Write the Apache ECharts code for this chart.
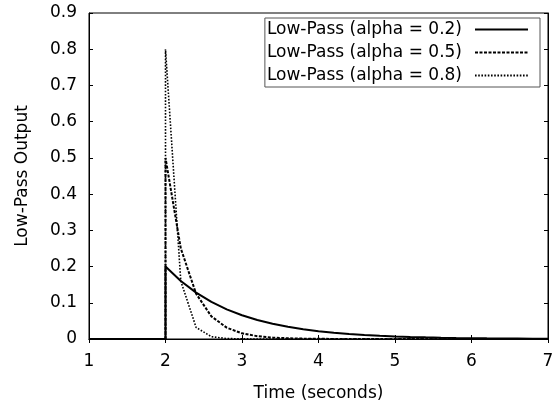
<!DOCTYPE html>
<html><head><meta charset="utf-8">
<script src="https://cdn.jsdelivr.net/npm/echarts@6/dist/echarts.min.js"></script>
<style>html,body{margin:0;padding:0;background:#fff}#c{width:552px;height:400px}</style>
</head><body><div id="c"></div>
<script>
const time = [1,1.2,1.4,1.6,1.8,2,2,2.2,2.4,2.6,2.8,3,3.2,3.4,3.6,3.8,4,4.2,4.4,4.6,4.8,5,5.2,5.4,5.6,5.8,6,6.2,6.4,6.6,6.8,7];
const lp02 = [0,0,0,0,0,0,0.2,0.16,0.128,0.1024,0.0819,0.0655,0.0524,0.0419,0.0336,0.0268,0.0215,0.0172,0.0137,0.011,0.0088,0.007,0.0056,0.0045,0.0036,0.0029,0.0023,0.0018,0.0015,0.0012,0.0009,0.0008];
const lp05 = [0,0,0,0,0,0,0.5,0.25,0.125,0.0625,0.0313,0.0156,0.0078,0.0039,0.002,0.001,0.0005,0.0002,0.0001,0,0,0,0,0,0,0,0,0,0,0,0,0];
const lp08 = [0,0,0,0,0,0,0.8,0.16,0.032,0.0064,0.0013,0.0003,0.0001,0,0,0,0,0,0,0,0,0,0,0,0,0,0,0,0,0,0,0];
const seriesNames = ['Low-Pass (alpha = 0.2)','Low-Pass (alpha = 0.5)','Low-Pass (alpha = 0.8)'];
const xRange = [1, 7], xStep = 1;
const yRange = [0, 0.9], yStep = 0.1;

const FONT = 'DejaVu Sans';
const FS = 17;
const pairs = arr => time.map((t, i) => [t, arr[i]]);
const axisCommon = {
  axisLine: {show: true, lineStyle: {color: '#000', width: 1}},
  axisTick: {show: true, inside: true, length: 4, lineStyle: {color: '#000'}},
  splitLine: {show: false}
};
const chart = echarts.init(document.getElementById('c'), null, {renderer: 'canvas'});
chart.setOption({
  animation: false,
  backgroundColor: '#fff',
  textStyle: {fontFamily: FONT},
  grid: {left: 89, right: 4, top: 13, bottom: 61, show: true, borderColor: '#000', borderWidth: 1,
    containLabel: false, outerBoundsMode: 'none'},
  legend: {
    data: seriesNames, orient: 'vertical', right: 12, top: 18,
    align: 'right', itemWidth: 53, itemHeight: 14, itemGap: 6,
    backgroundColor: '#fff', borderColor: '#555', borderWidth: 1,
    padding: [3, 11, 3, 2],
    itemStyle: {opacity: 0, borderWidth: 0},
    textStyle: {fontFamily: FONT, fontSize: FS, color: '#000', padding: [0, 8, 0, 0]}
  },
  xAxis: [
    Object.assign({type: 'value', min: xRange[0], max: xRange[1], interval: xStep, position: 'bottom',
      name: 'Time (seconds)', nameLocation: 'middle', nameGap: 46,
      nameTextStyle: {fontFamily: FONT, fontSize: FS, color: '#000'},
      axisLabel: {fontFamily: FONT, fontSize: FS, color: '#000', margin: 14}}, axisCommon),
    Object.assign({type: 'value', min: xRange[0], max: xRange[1], interval: xStep, position: 'top',
      axisLabel: {show: false}}, axisCommon)
  ],
  yAxis: [
    Object.assign({type: 'value', min: yRange[0], max: yRange[1], interval: yStep, position: 'left',
      name: 'Low-Pass Output', nameLocation: 'middle', nameGap: 58,
      nameTextStyle: {fontFamily: FONT, fontSize: FS, color: '#000'},
      axisLabel: {fontFamily: FONT, fontSize: FS, color: '#000', margin: 12}}, axisCommon),
    Object.assign({type: 'value', min: yRange[0], max: yRange[1], interval: yStep, position: 'right',
      axisLabel: {show: false}}, axisCommon)
  ],
  series: [
    {name: seriesNames[0], type: 'line', data: pairs(lp02), symbol: 'none', color: '#000',
      lineStyle: {color: '#000', width: 2, type: 'solid'}},
    {name: seriesNames[1], type: 'line', data: pairs(lp05), symbol: 'none', color: '#000',
      lineStyle: {color: '#000', width: 2, type: [3, 1.5]}},
    {name: seriesNames[2], type: 'line', data: pairs(lp08), symbol: 'none', color: '#000',
      lineStyle: {color: '#000', width: 1.6, type: [1.6, 1.6]}}
  ]
});
</script></body></html>
